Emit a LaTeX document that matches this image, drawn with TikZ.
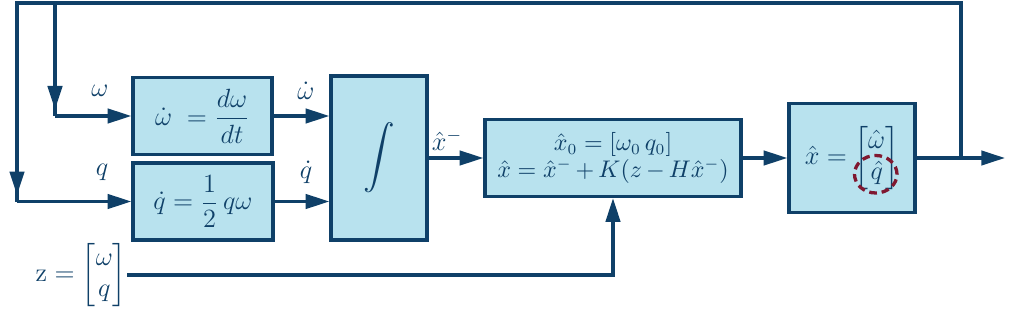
\documentclass[tikz,border=0pt]{standalone}
\usepackage{amsmath,amsfonts,amssymb}
\usepackage{xcolor}
\usepackage{tikz}
\usetikzlibrary{arrows.meta}

\definecolor{navy}{RGB}{15,64,104}
\definecolor{paleblue}{RGB}{184,226,238}
\definecolor{darkred}{RGB}{128,24,48}

\begin{document}
\begin{tikzpicture}[
    font=\fontsize{12}{14}\selectfont, text=navy,
    block/.style={draw=navy, fill=paleblue, line width=1.5pt, rectangle, inner sep=0pt},
    wire/.style={draw=navy, line width=1.5pt},
    flow/.style={wire, -{Triangle[length=0.38cm, width=0.23cm]}}
  ]
  \useasboundingbox (0,0) rectangle (16.288,4.96);

  % Left side - derivative blocks
  \node[block, minimum width=2.224cm, minimum height=1.232cm] (wdot) at (3.24,3.104) {$\dot{\omega}\;=\dfrac{d\omega}{dt}$};
  \node[block, minimum width=2.24cm, minimum height=1.232cm] (qdot) at (3.248,1.736) {$\dot{q}=\dfrac{1}{2}\,q\omega$};
  \node (lw) at (1.6,3.5) {$\omega$};
  \node (lq) at (1.632,2.2) {$q$};
  \node (lwd) at (4.896,3.5) {$\dot{\omega}$};
  \node (lqd) at (4.896,2.2) {$\dot{q}$};

  % Integrator
  \node[block, minimum width=1.536cm, minimum height=2.624cm] (integ) at (6.064,2.432) {\scalebox{1.2}{$\displaystyle\int$}};
  \node (lxm) at (7.152,2.72) {$\hat{x}^{-}$};

  % Update block
  \node[block, minimum width=4.096cm, minimum height=1.232cm, align=center,
        font=\fontsize{10.5}{12}\selectfont] (upd) at (9.808,2.432)
    {$\hat{x}_0=[\omega_0\,q_0]$\\[0pt]
     $\medmuskip=3mu\hat{x}=\hat{x}^{-}+K(z-H\hat{x}^{-})$};

  % Right side - state
  \node[block, minimum width=2.016cm, minimum height=1.744cm] (state) at (13.632,2.432)
    {$\hat{x}=\begin{bmatrix}\hat{\omega}\\ \hat{q}\end{bmatrix}$};
  \draw[darkred, line width=1.5pt, dash pattern=on 3.5pt off 2.2pt] ([shift={(0.38,-0.26)}]state.center) ellipse (0.34cm and 0.3cm);

  % Measurement
  \node[inner sep=0pt] (meas) at (1.3,0.56) {$\mathrm{z}=\begin{bmatrix}\omega\\ q\end{bmatrix}$};

  % Connectors
  \coordinate (out) at (16.08,2.432);
  \coordinate (split) at (15.376,2.432);
  \coordinate (topr) at (15.376,4.912);
  \coordinate (topl) at (0.272,4.912);
  \coordinate (tapw) at (0.88,4.912);
  \coordinate (cw) at (0.88,3.104);
  \coordinate (cq) at (0.272,1.736);

  \draw[flow] (wdot.east) -- (wdot.east -| integ.west);
  \draw[flow] (qdot.east) -- (qdot.east -| integ.west);
  \draw[flow] (integ.east) -- (upd.west);
  \draw[flow] (upd.east) -- (state.west);
  \draw[flow] (state.east) -- (out);
  \draw[wire, line join=miter] (split) -- (topr) -- (topl) -- (cq);
  \draw[flow] (topl) -- ([yshift=0.1cm]cq);
  \draw[flow] (cq) -- (qdot.west);
  \draw[wire] (tapw) -- (cw);
  \draw[flow] (tapw) -- ([yshift=0.1cm]cw);
  \draw[flow] (cw) -- (wdot.west);
  \draw[flow] (meas.east) -| (upd.south);
\end{tikzpicture}
\end{document}
